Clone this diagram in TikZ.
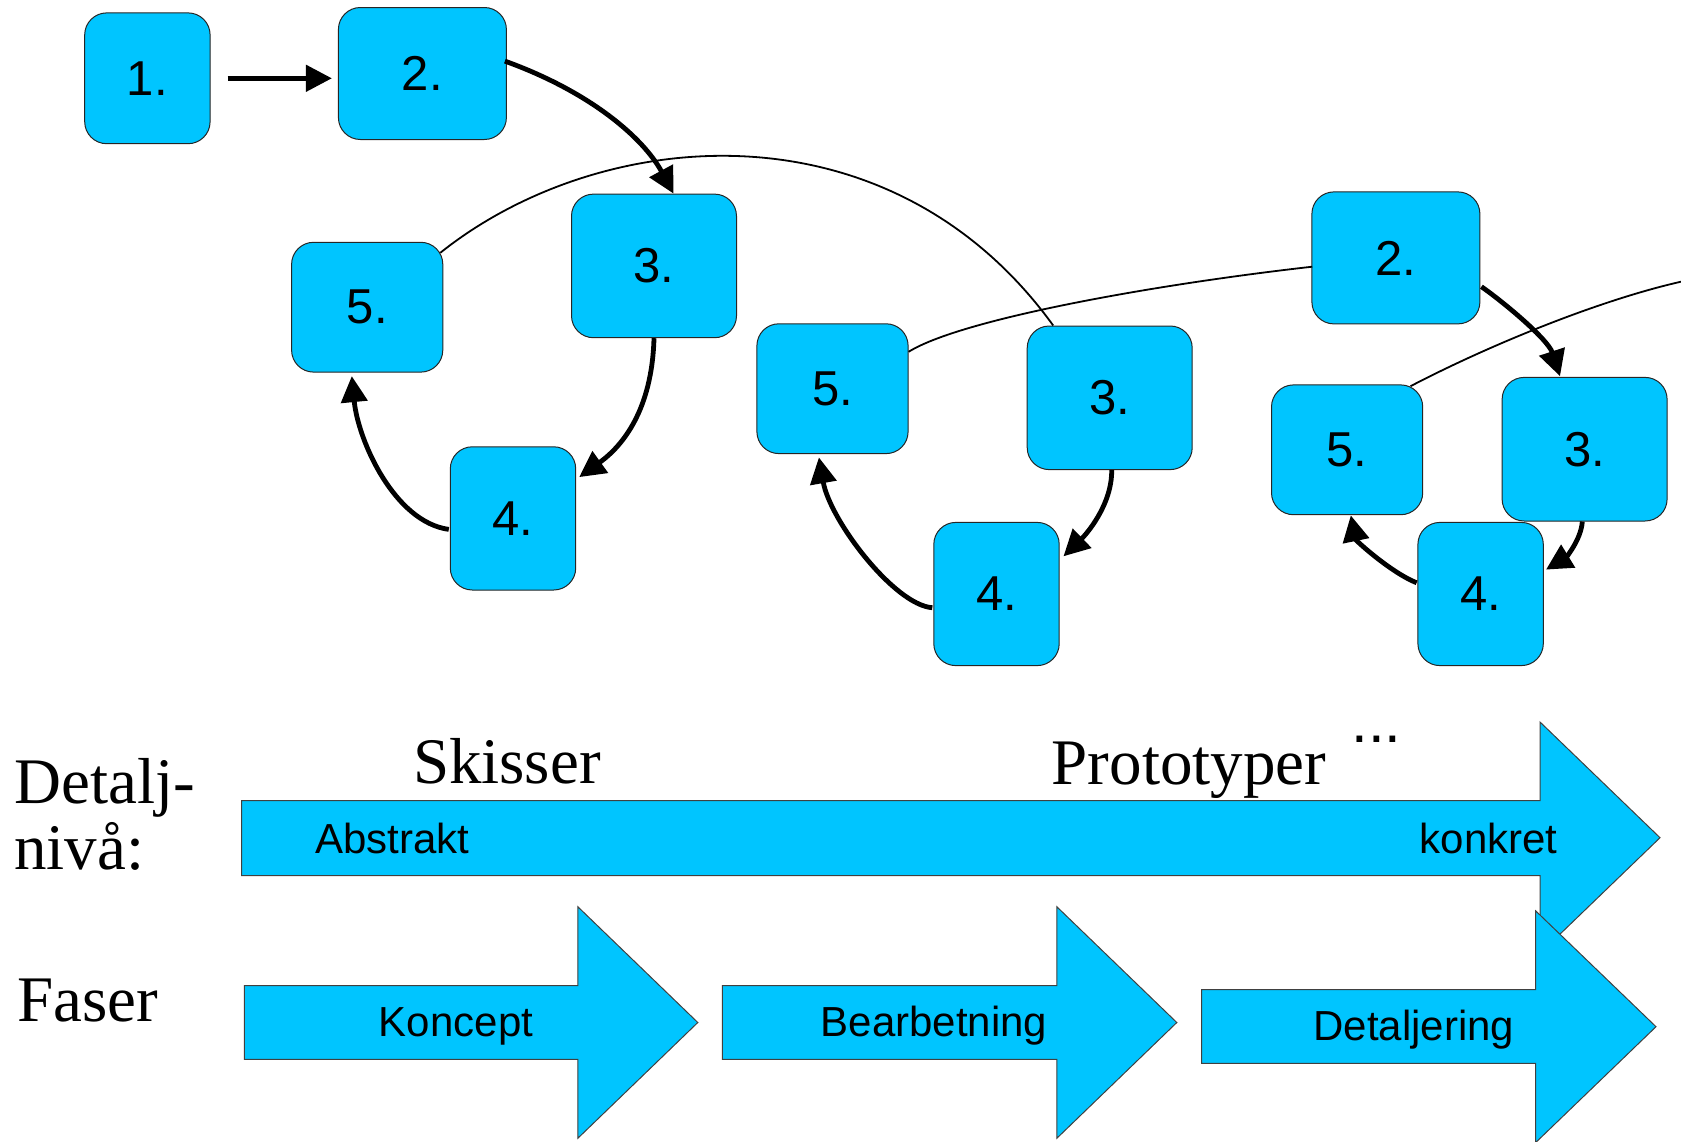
\documentclass[tikz,border=0pt]{standalone}
\usepackage{fontspec}
\setmainfont{Liberation Serif}
\newfontfamily\lsans{Liberation Sans}
\usetikzlibrary{arrows.meta,calc}
\definecolor{boxblue}{RGB}{0,197,255}
\begin{document}
\begin{tikzpicture}[x=0.5pt,y=-0.5pt,
  box/.style={draw=black!85, line width=0.5pt, fill=boxblue, rounded corners=11pt,
    inner sep=0pt, font=\lsans\fontsize{24.5}{28}\selectfont},
  bone/.style={minimum width=62.7pt, minimum height=65.4pt},
  btwo/.style={minimum width=84pt, minimum height=66pt},
  bthree/.style={minimum width=82.5pt, minimum height=71.8pt},
  bfour/.style={minimum width=62.7pt, minimum height=71.6pt},
  bfive/.style={minimum width=75.6pt, minimum height=64.9pt},
  flow/.style={line width=2.4pt, -{Triangle[length=13pt,width=13pt]}},
  thinline/.style={line width=0.9pt},
  bigarrow/.style={fill=boxblue, draw=black!75, line width=0.5pt},
  serif/.style={font=\fontsize{32.5}{38}\selectfont, inner sep=0pt},
  lab/.style={font=\lsans\fontsize{21}{25}\selectfont, inner sep=0pt}]
\useasboundingbox (0,0) rectangle (1681,1141);

% bottom arrows
\path[bigarrow] (241.7,800.7) -- (1540,800.7) -- (1540,722) -- (1660,837.7) -- (1540,953.4)
  -- (1540,875.5) -- (241.7,875.5) -- cycle;
\path[bigarrow] (244.4,985.5) -- (577.8,985.5) -- (577.8,906.7) -- (697.8,1022.5) -- (577.8,1138.3)
  -- (577.8,1059.3) -- (244.4,1059.3) -- cycle;
\path[bigarrow] (722.4,985.5) -- (1056.8,985.5) -- (1056.8,906.7) -- (1176.8,1022.5) -- (1056.8,1138.3)
  -- (1056.8,1059.3) -- (722.4,1059.3) -- cycle;
\path[bigarrow] (1201.5,989.7) -- (1535.5,989.7) -- (1535.5,910.7) -- (1656,1026.7) -- (1535.5,1142.7)
  -- (1535.5,1063.3) -- (1201.5,1063.3) -- cycle;

% texts
\node[serif, anchor=base west] (detalj) at (14,803.3) {Detalj-};
\node[serif, anchor=base west] (niva) at (14,869) {nivå:};
\node[serif, anchor=base west] (faser) at (16.7,1021.7) {Faser};
\node[serif, anchor=base west] (skisser) at (412.6,783.3) {Skisser};
\node[serif, anchor=base west] (proto) at (1051.4,784) {Prototyper};
\node[inner sep=0pt, font=\lsans\fontsize{30}{34}\selectfont, anchor=base west] (dots) at (1351,742.7) {...};
\node[lab, anchor=base west] (abstrakt) at (315,853.3) {Abstrakt};
\node[lab, anchor=base east] (konkret) at (1558,853.3) {konkret};
\node[lab, anchor=base] (koncept) at (456,1036.7) {Koncept};
\node[lab, anchor=base] (bearb) at (934,1036.7) {Bearbetning};
\node[lab, anchor=base] (detaljering) at (1413.7,1040.7) {Detaljering};

% boxes
\node[box, bone] (b1) at (147.4,78.3) {1.};
\node[box, btwo] (b2) at (422.4,73.5) {2.};
\node[box, bthree] (a3) at (654,265.9) {3.};
\node[box, bfive] (a5) at (367.2,307.2) {5.};
\node[box, bfour] (a4) at (513,518.4) {4.};
\node[box, bfive] (d5) at (832.5,388.7) {5.};
\node[box, bthree] (d3) at (1109.7,397.8) {3.};
\node[box, bfour] (d4) at (996.5,594) {4.};
\node[box, btwo] (e2) at (1395.9,257.9) {2.};
\node[box, bfive] (e5) at (1347.1,449.8) {5.};
\node[box, bthree] (e3) at (1584.6,449.2) {3.};
\node[box, bfour] (e4) at (1480.6,594) {4.};
\coordinate (rend) at (1681,281.7);

% connectors
\draw[flow] ($(b1.east)+(17,0)$) -- ($(b2.west)+(-6,4.8)$);
\draw[flow] ($(b2.east)+(-2,-12.4)$) .. controls +(86,31) and +(-30,-55.4) .. ($(a3.north)+(19.5,0)$);
\draw[flow] (a3.south) .. controls +(-2,72) and +(43.3,-31.1) .. ($(a4.east)+(3,-41.3)$);
\draw[flow] ($(a4.west)+(-1,11)$) .. controls +(-54.3,-7.4) and +(6.2,64.5) .. ($(a5.south)+(-15.4,3.5)$);
\draw[thinline] ($(a5.north east)+(-3,11)$) .. controls +(160.2,-128) and +(-163.6,-226) .. ($(d3.north west)+(26.5,0)$);
\draw[flow] ($(d3.south)+(2,0)$) .. controls +(0.3,35.4) and +(22,-21.3) .. ($(d4.east)+(3.8,-37.7)$);
\draw[flow] ($(d4.west)+(-1,13.7)$) .. controls +(-37.8,-2.7) and +(11.1,63.2) .. ($(d5.south)+(-13.6,3.3)$);
\draw[thinline] ($(d5.north east)+(0,28.5)$) .. controls +(51.9,-32.3) and +(-162,18.3) .. ($(e2.west)+(0.8,8.8)$);
\draw[flow] ($(e2.east)+(1,28.8)$) .. controls +(23.4,16.3) and +(-12,-36.7) .. ($(e3.north)+(-24.6,-0.7)$);
\draw[thinline] ($(e5.north east)+(-12.7,1.8)$) .. controls +(80,-41.7) and +(-81,18.3) .. (rend);
\draw[flow] ($(e3.south)+(-2.3,0)$) .. controls +(-1.3,19) and +(19,-11.6) .. ($(e4.east)+(2.2,-24.4)$);
\draw[flow] ($(e4.west)+(-0.8,-11.2)$) .. controls +(-26.5,-10.8) and +(5.2,25.2) .. ($(e5.south)+(3.7,0.2)$);
\end{tikzpicture}
\end{document}
